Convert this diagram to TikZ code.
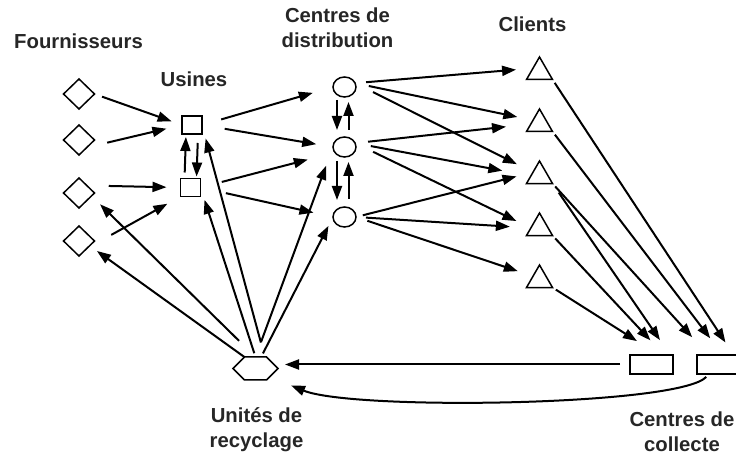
\documentclass[tikz,border=0pt]{standalone}
\usepackage{fontspec}
\setmainfont{Liberation Sans}
\usetikzlibrary{shapes.geometric,shapes.symbols,arrows.meta,positioning}

\begin{document}
\begin{tikzpicture}[
    x=1pt, y=1pt,
    supplier/.style={diamond, draw, line width=1.5pt, minimum width=31pt, minimum height=30pt, inner sep=0pt, outer sep=0pt},
    plant/.style={rectangle, draw, line width=1.5pt, minimum width=20pt, minimum height=18pt, inner sep=0pt, outer sep=0pt},
    depot/.style={ellipse, draw, line width=1.5pt, minimum width=23pt, minimum height=20pt, inner sep=0pt, outer sep=0pt},
    client/.style={regular polygon, regular polygon sides=3, draw, line width=1.5pt, minimum size=30pt, inner sep=0pt, outer sep=0pt},
    recycler/.style={signal, signal to=east and west, signal pointer angle=90, draw, line width=1.5pt, minimum width=45pt, minimum height=23pt, inner sep=0pt, outer sep=0pt},
    collector/.style={rectangle, draw, line width=1.5pt, minimum width=43pt, minimum height=19pt, inner sep=0pt, outer sep=0pt},
    title/.style={font=\bfseries\fontsize{20.3}{25}\selectfont, text=black!85, align=center, inner sep=0pt},
    arrow/.style={-{Triangle[length=14pt,width=10pt]}, line width=2pt}
]
\useasboundingbox (0,0) rectangle (736,455);

% Fournisseurs
\node[supplier] (d1) at (79,361) {};
\node[supplier] (d2) at (79,315) {};
\node[supplier] (d3) at (79,262) {};
\node[supplier] (d4) at (79,214) {};

% Usines
\node[plant] (u1) at (192,330) {};
\node[plant] (u2) at (190.5,267.5) {};

% Centres de distribution
\node[depot] (cd1) at (344.5,368) {};
\node[depot] (cd2) at (344.5,308) {};
\node[depot] (cd3) at (344.5,238) {};

% Clients
\node[client] (t1) at (539.5,383) {};
\node[client, below=29.5pt of t1] (t2) {};
\node[client, below=29.5pt of t2] (t3) {};
\node[client, below=29.5pt of t3] (t4) {};
\node[client, below=29.5pt of t4] (t5) {};

% Centres de collecte and recycling
\node[collector] (c1) at (651.5,90.5) {};
\node[collector] (c2) at (718.5,90.5) {};
\node[recycler] (r) at (255.5,86.5) {};

% Labels
\node[title, anchor=base] (lsup) at (78.5,406) {Fournisseurs};
\node[title, anchor=base] (lpl) at (194,368) {Usines};
\node[title] (ldep) at (337.5,427) {Centres de\\distribution};
\node[title, anchor=base] (lcl) at (532.5,423) {Clients};
\node[title] (lrec) at (256.5,25) {Unités de\\recyclage};
\node[title] (lcol) at (682,23) {Centres de\\collecte};

% Fournisseurs -> Usines
\draw[arrow, shorten <=8pt, shorten >=11pt] (d1.east) -- (u1.west);
\draw[arrow, shorten <=21pt, shorten >=16pt] (d2.south east) -- (u1.west);
\draw[arrow, shorten <=22pt, shorten >=14pt] (d3.north east) -- (u2.west);
\draw[arrow, shorten <=28pt, shorten >=15pt] (d4.south east) -- (u2.south west);

% Usines <-> Usines
\draw[arrow, shorten <=6pt, shorten >=3pt] ([xshift=-6pt]u2.north) -- ([xshift=-6pt]u1.south);
\draw[arrow, shorten <=9pt, shorten >=2pt] ([xshift=6pt]u1.south) -- ([xshift=6pt]u2.north);

% Usines -> Centres de distribution
\draw[arrow, shorten <=20pt, shorten >=21pt] (u1.east) -- (cd1.west);
\draw[arrow, shorten <=23pt, shorten >=17pt] (u1.east) -- (cd2.west);
\draw[arrow, shorten <=22pt, shorten >=28pt] (u2.east) -- (cd2.210);
\draw[arrow, shorten <=26pt, shorten >=20pt] (u2.east) -- (cd3.west);

% Centres de distribution <-> Centres de distribution
\draw[arrow, shorten <=3pt, shorten >=7pt] ([xshift=-7.5pt]cd1.south) -- ([xshift=-7.5pt]cd2.north);
\draw[arrow, shorten <=7pt, shorten >=5pt] ([xshift=4pt]cd2.north) -- ([xshift=4pt]cd1.south);
\draw[arrow, shorten <=4pt, shorten >=7pt] ([xshift=-7.5pt]cd2.south) -- ([xshift=-7.5pt]cd3.north);
\draw[arrow, shorten <=8pt, shorten >=5pt] ([xshift=4pt]cd3.north) -- ([xshift=4pt]cd2.south);

% Centres de distribution -> Clients
\draw[arrow, shorten <=11pt, shorten >=17pt] (cd1.20) -- (t1.side 1);
\draw[arrow, shorten <=14pt, shorten >=16pt] (cd1.20) -- (t2.side 1);
\draw[arrow, shorten <=20pt, shorten >=18pt] (cd1.20) -- (t3.side 1);
\draw[arrow, shorten <=13pt, shorten >=25pt] (cd2.20) -- (t2.west);
\draw[arrow, shorten <=16pt, shorten >=29pt] (cd2.20) -- (t3.west);
\draw[arrow, shorten <=20pt, shorten >=16pt] (cd2.20) -- (t4.west);
\draw[arrow, shorten <=7pt, shorten >=17pt] (cd3.east) -- (t3.side 1);
\draw[arrow, shorten <=10pt, shorten >=21pt] (cd3.east) -- (t4.west);
\draw[arrow, shorten <=12pt, shorten >=16pt] (cd3.east) -- (t5.side 1);

% Clients -> Centres de collecte
\draw[arrow, shorten <=4pt, shorten >=15pt] (t1.corner 3) -- (c2.32);
\draw[arrow, shorten <=4pt, shorten >=21pt] (t2.corner 3) -- (c2.65);
\draw[arrow, shorten <=4pt, shorten >=24pt] (t3.corner 3) -- (c2.137);
\draw[arrow, shorten <=11pt, shorten >=18pt] (t3.corner 3) -- (c1.27);
\draw[arrow, shorten <=4pt, shorten >=20pt] (t4.corner 3) -- (c1.37);
\draw[arrow, shorten <=4pt, shorten >=26pt] (t5.corner 3) -- (c1.52);

% Unites de recyclage -> everyone
\draw[arrow, shorten <=23pt, shorten >=12pt] (r.north) -- (d3.-13);
\draw[arrow, shorten >=9pt] (r.134) -- (d4.-24);
\draw[arrow, shorten <=4pt, shorten >=13pt] (r.north) -- (u2.east);
\draw[arrow, shorten <=15pt, shorten >=14pt] (r.51) -- (u1.east);
\draw[arrow, shorten <=16pt, shorten >=20pt] (r.north) -- (cd2.west);
\draw[arrow, shorten <=4pt, shorten >=10pt] (r.64) -- (cd3.west);

% Centres de collecte -> Unites de recyclage
\draw[arrow, shorten <=10pt, shorten >=7pt] (c1.west) -- (r.east |- c1.west);
\draw[arrow, shorten <=4pt, shorten >=23pt] (c2.225) .. controls +(-30,-32) and +(83,-34) .. (r.-30);

\end{tikzpicture}
\end{document}
